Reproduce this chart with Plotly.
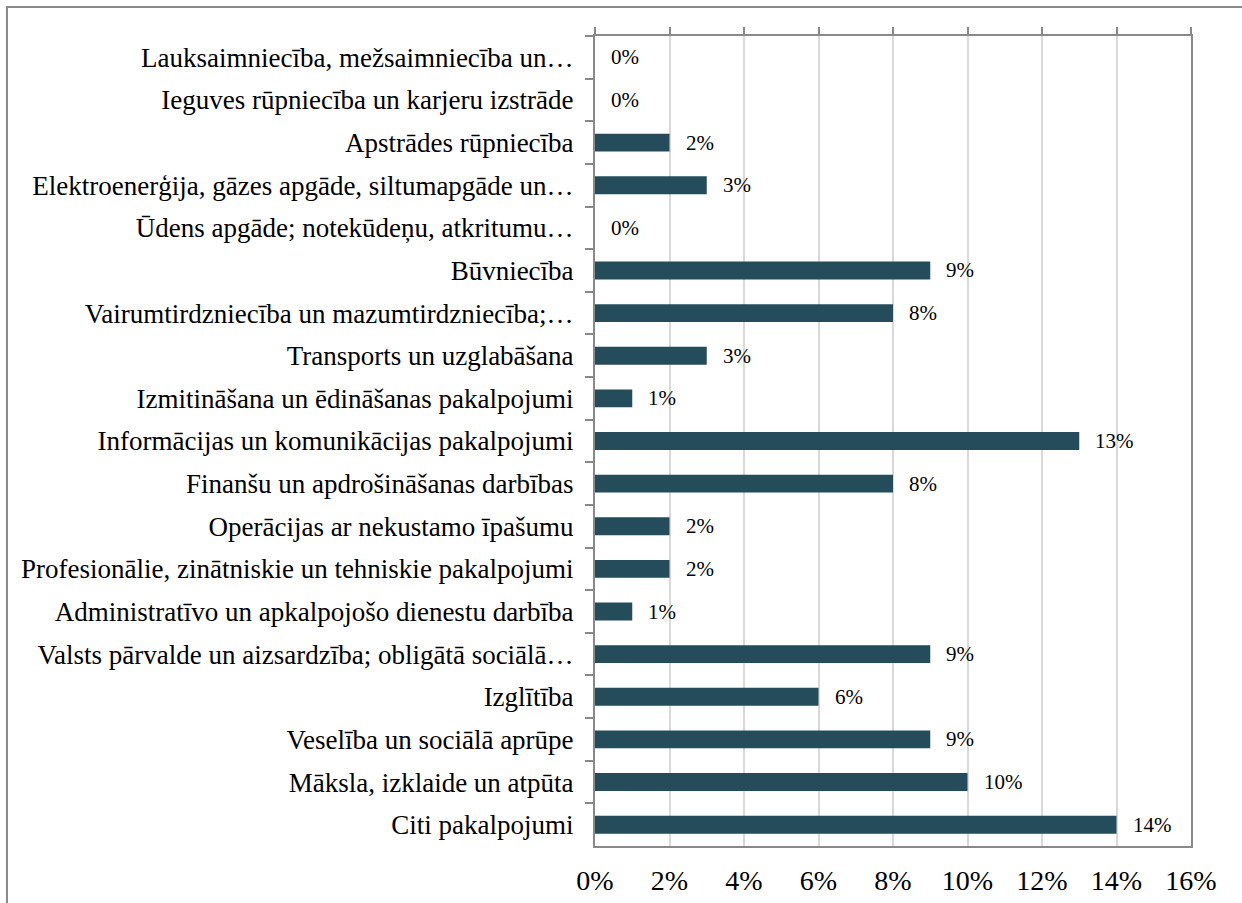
import plotly.graph_objects as go

categories = [
    "Lauksaimniecība, mežsaimniecība un…",
    "Ieguves rūpniecība un karjeru izstrāde",
    "Apstrādes rūpniecība",
    "Elektroenerģija, gāzes apgāde, siltumapgāde un…",
    "Ūdens apgāde; notekūdeņu, atkritumu…",
    "Būvniecība",
    "Vairumtirdzniecība un mazumtirdzniecība;…",
    "Transports un uzglabāšana",
    "Izmitināšana un ēdināšanas pakalpojumi",
    "Informācijas un komunikācijas pakalpojumi",
    "Finanšu un apdrošināšanas darbības",
    "Operācijas ar nekustamo īpašumu",
    "Profesionālie, zinātniskie un tehniskie pakalpojumi",
    "Administratīvo un apkalpojošo dienestu darbība",
    "Valsts pārvalde un aizsardzība; obligātā sociālā…",
    "Izglītība",
    "Veselība un sociālā aprūpe",
    "Māksla, izklaide un atpūta",
    "Citi pakalpojumi",
]
values = [0, 0, 2, 3, 0, 9, 8, 3, 1, 13, 8, 2, 2, 1, 9, 6, 9, 10, 14]
tick_vals = [0, 2, 4, 6, 8, 10, 12, 14, 16]
tick_text = ["0%", "2%", "4%", "6%", "8%", "10%", "12%", "14%", "16%"]

FONT = "Liberation Serif"
AX = "#898989"
GRID = "#D9D9D9"
BAR = "#244C5A"

fig = go.Figure()
fig.add_trace(go.Bar(
    y=categories, x=values, orientation="h",
    marker=dict(color=BAR, line=dict(width=0)),
    hoverinfo="skip", showlegend=False,
))
# invisible trace for the top tick axis
fig.add_trace(go.Scatter(x=[0, 16], y=[categories[0], categories[0]], xaxis="x2",
                         mode="markers", marker=dict(opacity=0), showlegend=False,
                         hoverinfo="skip"))

for c, v in zip(categories, values):
    fig.add_annotation(x=v, y=c, text=f"{v}%", showarrow=False, xanchor="left",
                       xshift=14, font=dict(family=FONT, size=21, color="#000000"))

n = len(categories)
fig.update_layout(
    width=1242, height=903,
    margin=dict(l=595, r=51, t=36, b=57, autoexpand=False),
    paper_bgcolor="white", plot_bgcolor="white",
    bargap=0.58,
    font=dict(family=FONT, color="#000000"),
    xaxis=dict(range=[0, 16], tickvals=tick_vals, ticktext=tick_text,
               showgrid=True, gridcolor=GRID, gridwidth=1.5,
               showline=True, linecolor=AX, linewidth=2, mirror=True,
               ticks="", ticklabelstandoff=8, automargin=False,
               tickfont=dict(family=FONT, size=28, color="#000000"),
               zeroline=False, fixedrange=True),
    xaxis2=dict(range=[0, 16], overlaying="x", side="top", tickvals=tick_vals,
                showticklabels=False, ticks="outside", ticklen=8, tickwidth=2,
                tickcolor=AX, showgrid=False, showline=False, zeroline=False,
                automargin=False),
    yaxis=dict(type="category", range=[n - 0.5, -0.5], automargin=False,
               showline=True, linecolor=AX, linewidth=2, mirror=True,
               ticks="outside", tickson="boundaries", ticklen=8, tickwidth=2,
               tickcolor=AX, ticklabelstandoff=14,
               tickfont=dict(family=FONT, size=27, color="#000000"),
               showgrid=False),
)

# outer chart frame
fig.add_shape(type="rect", xref="paper", yref="paper",
              x0=-0.9866, y0=-0.085, x1=1.10, y1=1.0358,
              line=dict(color=AX, width=2), layer="below")

fig.write_html("out.html", config={"displayModeBar": False},
               post_script="document.body.style.margin='0';document.body.style.overflow='hidden';")
